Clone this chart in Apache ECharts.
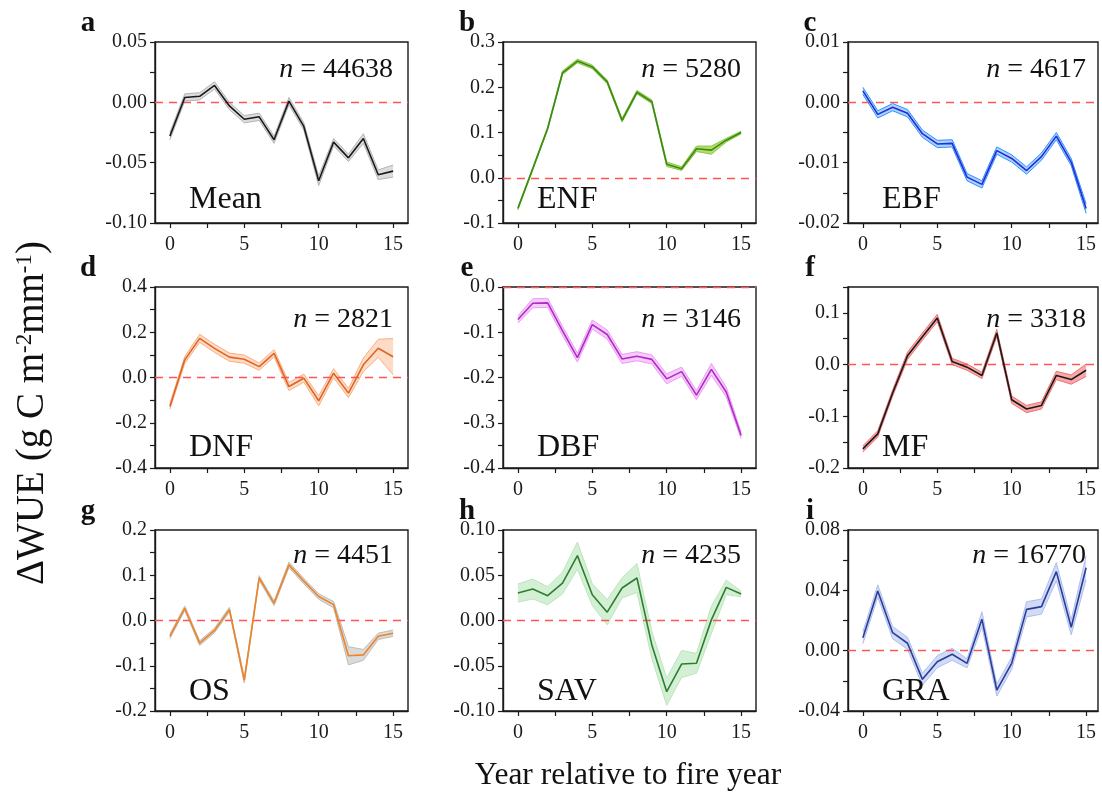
<!DOCTYPE html>
<html><head><meta charset="utf-8">
<script src="https://cdn.jsdelivr.net/npm/echarts@6/dist/echarts.min.js"></script>
<style>html,body{margin:0;padding:0;background:#fff}#c{width:1102px;height:796px}</style>
</head><body><div id="c"></div>
<script>
// ---------------- data ----------------
const YEARS = [0,1,2,3,4,5,6,7,8,9,10,11,12,13,14,15];
const X_LABELS = [0,5,10,15];

const MEAN     = [-0.028, 0.004, 0.005, 0.014, -0.003, -0.014, -0.012, -0.031, 0.001, -0.020, -0.065, -0.033, -0.046, -0.030, -0.060, -0.057];
const MEAN_ERR = [0.003, 0.003, 0.003, 0.003, 0.003, 0.003, 0.003, 0.003, 0.003, 0.003, 0.004, 0.003, 0.003, 0.004, 0.004, 0.005];

const ENF      = [-0.068, 0.020, 0.109, 0.232, 0.258, 0.245, 0.212, 0.127, 0.189, 0.168, 0.030, 0.020, 0.064, 0.061, 0.083, 0.100];
const ENF_ERR  = [0.003, 0.003, 0.003, 0.004, 0.004, 0.004, 0.004, 0.004, 0.004, 0.004, 0.005, 0.004, 0.006, 0.009, 0.004, 0.003];

const EBF      = [0.0019, -0.0020, -0.0008, -0.0018, -0.0052, -0.0069, -0.0068, -0.0124, -0.0136, -0.0080, -0.0093, -0.0113, -0.0090, -0.0056, -0.0099, -0.0176];
const EBF_ERR  = [0.0006, 0.0006, 0.0006, 0.0006, 0.0006, 0.0006, 0.0006, 0.0006, 0.0006, 0.0006, 0.0006, 0.0006, 0.0006, 0.0006, 0.0006, 0.0008];

const DNF      = [-0.128, 0.078, 0.173, 0.129, 0.090, 0.081, 0.048, 0.107, -0.040, -0.003, -0.103, 0.019, -0.069, 0.056, 0.129, 0.092];
const DNF_ERR  = [0.012, 0.015, 0.018, 0.018, 0.018, 0.018, 0.016, 0.016, 0.018, 0.018, 0.022, 0.020, 0.020, 0.030, 0.040, 0.080];

const DBF      = [-0.072, -0.036, -0.035, -0.097, -0.156, -0.083, -0.105, -0.159, -0.153, -0.160, -0.203, -0.187, -0.239, -0.182, -0.232, -0.328];
const DBF_ERR  = [0.008, 0.010, 0.010, 0.010, 0.010, 0.010, 0.010, 0.010, 0.010, 0.010, 0.011, 0.010, 0.010, 0.013, 0.011, 0.007];

const MF       = [-0.163, -0.134, -0.055, 0.017, 0.054, 0.090, 0.006, -0.005, -0.021, 0.061, -0.068, -0.086, -0.079, -0.021, -0.029, -0.011];
const MF_ERR   = [0.006, 0.006, 0.006, 0.007, 0.007, 0.007, 0.006, 0.006, 0.006, 0.007, 0.007, 0.007, 0.007, 0.008, 0.009, 0.012];

const OS       = [-0.035, 0.027, -0.050, -0.022, 0.024, -0.132, 0.094, 0.038, 0.123, 0.087, 0.053, 0.035, -0.078, -0.076, -0.035, -0.028];
const OS_ERR   = [0.005, 0.005, 0.005, 0.005, 0.005, 0.006, 0.005, 0.005, 0.006, 0.006, 0.006, 0.007, 0.020, 0.012, 0.007, 0.007];

const SAV      = [0.0303, 0.0348, 0.0274, 0.0414, 0.0717, 0.0285, 0.0092, 0.0359, 0.0470, -0.0270, -0.0787, -0.0481, -0.0473, 0.0007, 0.0366, 0.0292];
const SAV_ERR  = [0.010, 0.011, 0.010, 0.012, 0.015, 0.012, 0.014, 0.011, 0.016, 0.015, 0.015, 0.015, 0.011, 0.015, 0.008, 0.003];

const GRA      = [0.0086, 0.0396, 0.0119, 0.0049, -0.0190, -0.0073, -0.0024, -0.0084, 0.0208, -0.0261, -0.0084, 0.0274, 0.0292, 0.0524, 0.0155, 0.0550];
const GRA_ERR  = [0.004, 0.004, 0.004, 0.004, 0.004, 0.004, 0.004, 0.003, 0.005, 0.004, 0.004, 0.005, 0.005, 0.006, 0.005, 0.008];

const LETTERS = ['a','b','c','d','e','f','g','h','i'];
const NAMES   = ['Mean','ENF','EBF','DNF','DBF','MF','OS','SAV','GRA'];
const COUNTS  = ['44638','5280','4617','2821','3146','3318','4451','4235','16770'];
const VALUES  = [MEAN, ENF, EBF, DNF, DBF, MF, OS, SAV, GRA];
const ERRORS  = [MEAN_ERR, ENF_ERR, EBF_ERR, DNF_ERR, DBF_ERR, MF_ERR, OS_ERR, SAV_ERR, GRA_ERR];
const Y_MIN  = [-0.10, -0.1, -0.02, -0.4, -0.4, -0.2, -0.2, -0.10, -0.04];
const Y_MAX  = [0.05, 0.3, 0.01, 0.4, 0.0, 0.15, 0.2, 0.10, 0.08];
const Y_STEP = [0.05, 0.1, 0.01, 0.2, 0.1, 0.1, 0.1, 0.05, 0.04];
const Y_DEC  = [2, 1, 2, 1, 1, 1, 1, 2, 2];

// ---------------- styles / layout ----------------
const LINE_COLORS = ['#1a1a1a','#3a8a1a','#2a2ad8','#e06424','#b02cc8','#1a1a1a','#f08424','#2e7d32','#2c3c9c'];
const BAND_FILL   = ['#dcdcdc','#b4dc6c','#a8d4ff','#fcdcc6','#f6cafa','#f8a8a8','#dadada','#d4f0d4','#d0dcf6'];
const BAND_EDGE   = ['#b4b4b4','#8cc83c','#2894ff','#f8b080','#ec9cf4','#f07070','#bcbcbc','#bce6bc','#aebfea'];
const COLS = [{left:155,width:253,xmax:16,letterX:88},{left:503,width:253,xmax:16,letterX:467},{left:848,width:250,xmax:15.8,letterX:810}];
const ROWS = [{top:42,height:181,nOff:28,cOff:158},{top:287,height:181,nOff:33,cOff:161},{top:530,height:181,nOff:26,cOff:162}];
const FONT = '"Liberation Serif","Times New Roman",serif';

function rnd(v){ return Math.round(v*1e8)/1e8; }
function steps(min, max, st){ const out=[]; for(let k=0; rnd(min+k*st) <= max+1e-9; k++) out.push(rnd(min+k*st)); return out; }

const grids=[], xAxes=[], yAxes=[], series=[], graphics=[];
for (let i=0;i<9;i++){
  const col = COLS[i%3], row = ROWS[Math.floor(i/3)];
  grids.push({left:col.left, top:row.top, width:col.width, height:row.height, show:true,
    borderColor:'#1a1a1a', borderWidth:1.4, backgroundColor:'transparent', containLabel:false});
  xAxes.push({type:'value', gridIndex:i, min:-1, max:col.xmax,
    axisLine:{show:true, onZero:false, lineStyle:{color:'#1a1a1a', width:1.4}},
    axisTick:{show:true, inside:false, length:5, lineStyle:{color:'#1a1a1a', width:1.2}, customValues: steps(0,15,2.5)},
    axisLabel:{show:true, customValues: X_LABELS, margin:12, color:'#1a1a1a', fontFamily:FONT, fontSize:20, formatter:v=>String(v)},
    splitLine:{show:false}});
  const st = Y_STEP[i], dec = Y_DEC[i];
  yAxes.push({type:'value', gridIndex:i, min:Y_MIN[i], max:Y_MAX[i],
    axisLine:{show:true, onZero:false, lineStyle:{color:'#1a1a1a', width:1.4}},
    axisTick:{show:true, inside:false, length:5, lineStyle:{color:'#1a1a1a', width:1.2}, customValues: steps(Y_MIN[i], Y_MAX[i], st/2)},
    axisLabel:{show:true, customValues: steps(Y_MIN[i], Y_MAX[i], st), margin:8, color:'#1a1a1a', fontFamily:FONT, fontSize:20,
      formatter:v=>(Math.abs(v)<1e-12?0:v).toFixed(dec)},
    splitLine:{show:false}});
  const vals = VALUES[i], errs = ERRORS[i];
  const lo = vals.map((v,k)=>v-errs[k]);
  const hi = vals.map((v,k)=>v+errs[k]);
  const fill = BAND_FILL[i];
  series.push({type:'custom', xAxisIndex:i, yAxisIndex:i, silent:true, z:1,
    data: YEARS.map((x,k)=>[x, lo[k], hi[k]]),
    renderItem:(params, api)=>{
      if (params.dataIndex !== 0) return null;
      const pts=[];
      for (let k=0;k<YEARS.length;k++) pts.push(api.coord([YEARS[k], lo[k]]));
      for (let k=YEARS.length-1;k>=0;k--) pts.push(api.coord([YEARS[k], hi[k]]));
      return {type:'polygon', shape:{points:pts}, style:{fill:fill, stroke:null}};
    }});
  series.push({type:'line', xAxisIndex:i, yAxisIndex:i, data:YEARS.map((x,k)=>[x, lo[k]]),
    symbol:'none', silent:true, lineStyle:{color:BAND_EDGE[i], width:1}, z:2});
  series.push({type:'line', xAxisIndex:i, yAxisIndex:i, data:YEARS.map((x,k)=>[x, hi[k]]),
    symbol:'none', silent:true, lineStyle:{color:BAND_EDGE[i], width:1}, z:2});
  series.push({type:'line', xAxisIndex:i, yAxisIndex:i, data:YEARS.map((x,k)=>[x, vals[k]]),
    symbol:'none', silent:true, lineStyle:{color:LINE_COLORS[i], width:1.6}, z:4,
    markLine:{silent:true, symbol:['none','none'], label:{show:false}, z:3,
      lineStyle:{color:'#ff5555', type:[8,6], width:1.3}, data:[{yAxis:0}]}});

  graphics.push({type:'text', x: col.letterX, y: row.top-18, z:10,
    style:{text:LETTERS[i], font:'bold 29px '+FONT, fill:'#111', textAlign:'center', textVerticalAlign:'middle', align:'center', verticalAlign:'middle'}});
  const x15 = col.left + col.width*(16/(col.xmax+1));
  graphics.push({type:'text', x: x15, y: row.top+row.nOff, z:10,
    style:{text:'{i|n} = '+COUNTS[i], font:'28px '+FONT, fill:'#111', textAlign:'right', textVerticalAlign:'middle', align:'right', verticalAlign:'middle',
      rich:{i:{fontStyle:'italic', fontSize:28, fontFamily:FONT, fill:'#111', color:'#111'}}}});
  graphics.push({type:'text', x: col.left+34, y: row.top+row.cOff, z:10,
    style:{text:NAMES[i], font:'32px '+FONT, fill:'#111', textAlign:'left', textVerticalAlign:'middle', align:'left', verticalAlign:'middle'}});
}
graphics.push({type:'text', x: 628, y: 776, z:10,
  style:{text:'Year relative to fire year', font:'31.5px '+FONT, fill:'#111', textAlign:'center', textVerticalAlign:'middle', align:'center', verticalAlign:'middle'}});
graphics.push({type:'text', x: 33, y: 413, rotation: Math.PI/2, z:10,
  style:{text:'ΔWUE (g C m{s|-2}mm{s|-1})', font:'39px '+FONT, fill:'#111', textAlign:'center', textVerticalAlign:'middle', align:'center', verticalAlign:'middle',
    rich:{s:{fontSize:23, fontFamily:FONT, verticalAlign:'top', fill:'#111', color:'#111', padding:[0,0,15,0]}}}});

const chart = echarts.init(document.getElementById('c'), null, {renderer:'canvas'});
chart.setOption({animation:false, backgroundColor:'#ffffff', grid:grids, xAxis:xAxes, yAxis:yAxes, series:series, graphic:{elements:graphics}});
</script></body></html>
